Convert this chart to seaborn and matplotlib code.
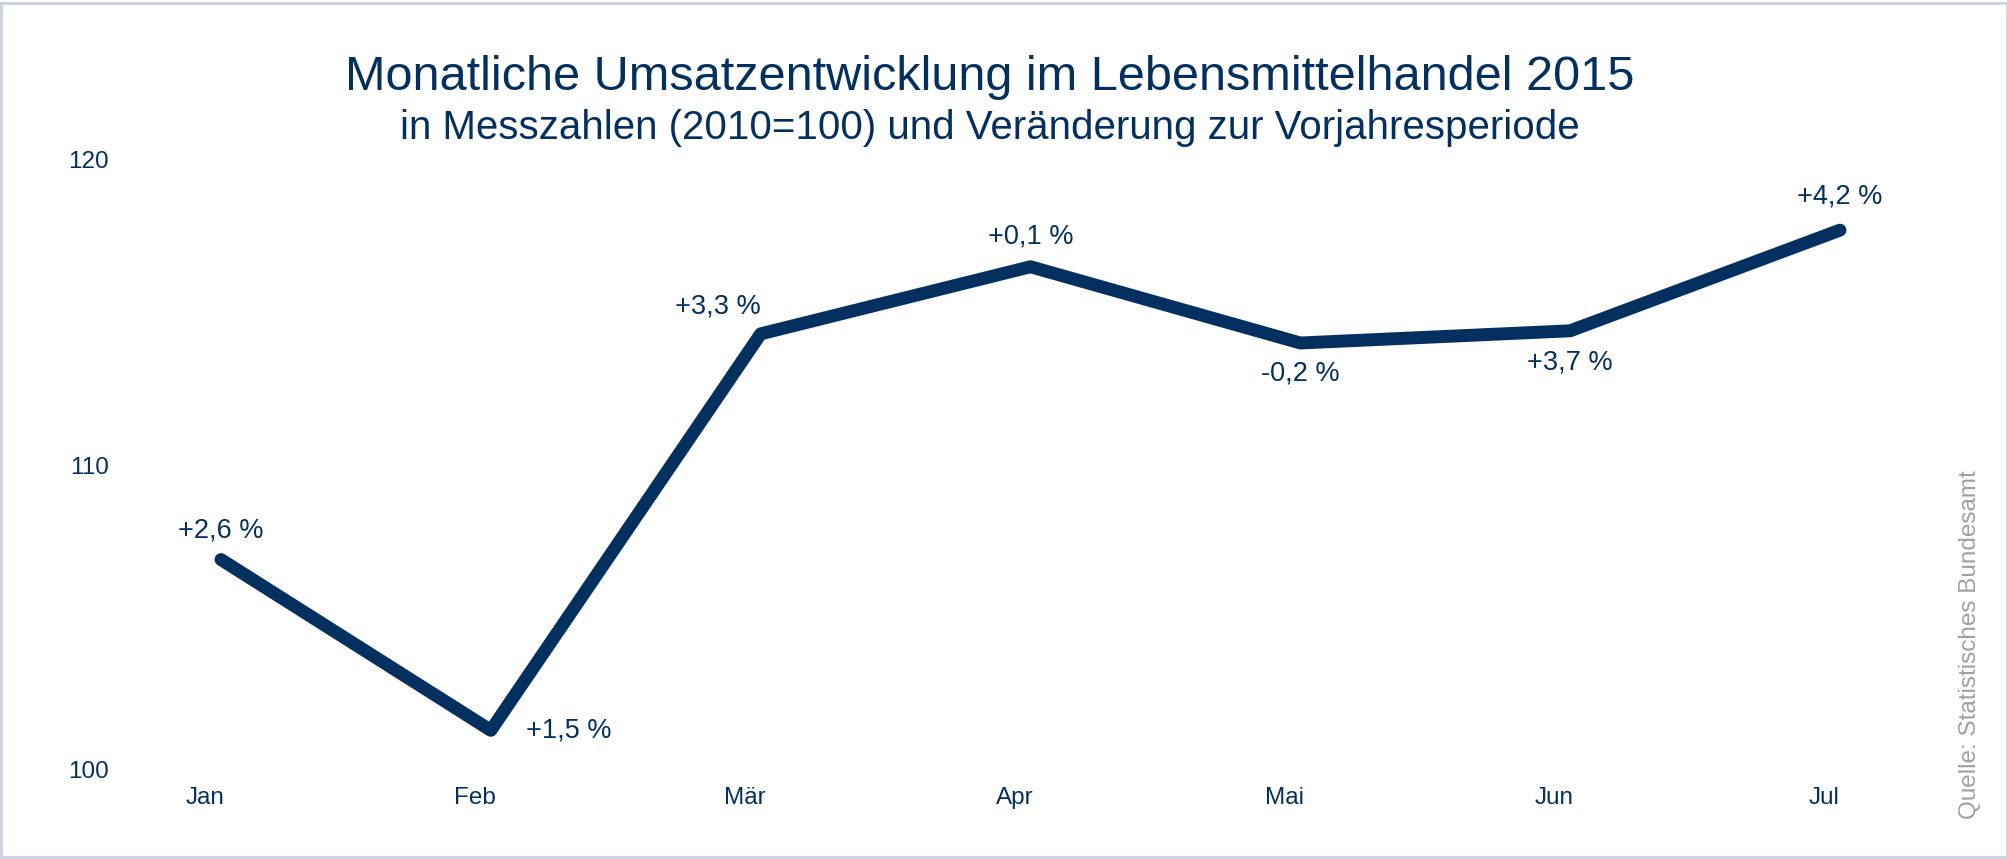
import matplotlib
matplotlib.use("Agg")
import matplotlib.pyplot as plt
import matplotlib.transforms as mtransforms
from matplotlib.patches import Rectangle
import seaborn as sns
import pandas as pd

# Daten (Messzahlen 2010=100)
monate = ['Jan', 'Feb', 'Mär', 'Apr', 'Mai', 'Jun', 'Jul']
messzahl = [106.9, 101.3, 114.3, 116.5, 114.0, 114.4, 117.7]
veraenderung = ['+2,6 %', '+1,5 %', '+3,3 %', '+0,1 %', '-0,2 %', '+3,7 %', '+4,2 %']
y_ticks = [100, 110, 120]

# Position der Beschriftungen (Versatz in pt, Ausrichtung)
label_offsets = [(0, 21), (25, 0), (0, 20), (0, 22), (0, -22), (0, -23), (0, 24)]
label_ha = ['center', 'left', 'right', 'center', 'center', 'center', 'center']

df = pd.DataFrame({'Monat': monate, 'Messzahl': messzahl})

NAVY = '#03305e'
W, H = 2008, 859

sns.set_theme(style="white")
plt.rcParams['font.family'] = ['Liberation Sans', 'DejaVu Sans']

fig = plt.figure(figsize=(W / 100, H / 100), dpi=100)
ax_left, ax_right = 150, 1900
ax_top, ax_bottom = 160, 770
ax = fig.add_axes([ax_left / W, 1 - ax_bottom / H, (ax_right - ax_left) / W, (ax_bottom - ax_top) / H])

sns.lineplot(data=df, x='Monat', y='Messzahl', ax=ax, sort=False,
             color=NAVY, linewidth=9.3, legend=False)
for line in ax.lines:
    line.set_solid_capstyle('round')
    line.set_solid_joinstyle('round')
    line.set_clip_on(False)

# Jan bei x=221 px, Jul bei x=1840 px
px_per_unit = (1840 - 221) / 6
ax.set_xlim(-(221 - ax_left) / px_per_unit, 6 + (ax_right - 1840) / px_per_unit)
ax.set_ylim(100, 120)
ax.set_yticks(y_ticks)
ax.set_xlabel('')
ax.set_ylabel('')
for s in ax.spines.values():
    s.set_visible(False)
ax.tick_params(axis='y', length=0, pad=29.5, labelsize=17.5, labelcolor=NAVY)
ax.tick_params(axis='x', length=0, pad=12, labelsize=17.5, labelcolor=NAVY)
shift = mtransforms.ScaledTranslation(-0.16, 0, fig.dpi_scale_trans)
for lbl in ax.get_xticklabels():
    lbl.set_transform(lbl.get_transform() + shift)

# Veränderungen zur Vorjahresperiode
for i, (val, txt) in enumerate(zip(messzahl, veraenderung)):
    ax.annotate(txt, (i, val), xytext=label_offsets[i], textcoords='offset points',
                ha=label_ha[i], va='center', fontsize=19.5, color=NAVY)

# Titel
fig.text(990 / W, 1 - 90 / H, 'Monatliche Umsatzentwicklung im Lebensmittelhandel 2015',
         ha='center', va='baseline', fontsize=35, color=NAVY)
fig.text(990 / W, 1 - 139 / H, 'in Messzahlen (2010=100) und Veränderung zur Vorjahresperiode',
         ha='center', va='baseline', fontsize=29, color=NAVY)

# Quelle
fig.text(1970 / W, 1 - 645 / H, 'Quelle: Statistisches Bundesamt', rotation=90,
         ha='center', va='center', fontsize=17.5, color='#a0a0a0')

# Rahmen
fig.patches.append(Rectangle((0.0005, 0.002), 0.999, 0.995, transform=fig.transFigure,
                             fill=False, edgecolor='#c8d2de', linewidth=2))

fig.savefig('out.png', dpi=100, facecolor='white')
